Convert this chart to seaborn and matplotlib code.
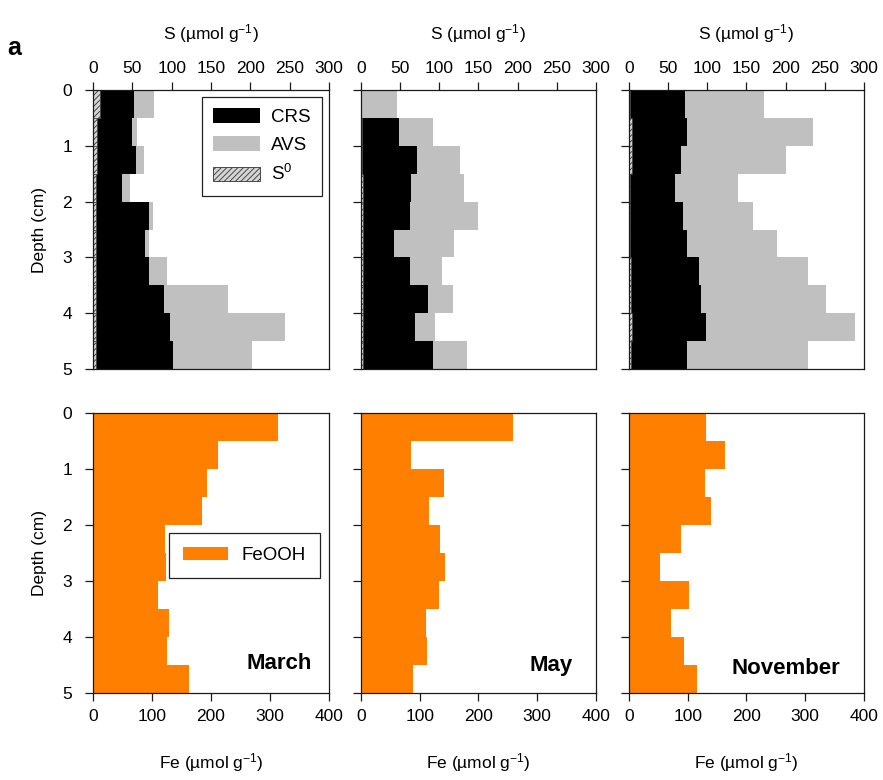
import numpy as np
import pandas as pd
import matplotlib
matplotlib.use("Agg")
import matplotlib.pyplot as plt
import seaborn as sns
from matplotlib.patches import Patch

# Sediment layers (0.5 cm slices), plotted at their mid-depth
depth_mid = [0.25, 0.75, 1.25, 1.75, 2.25, 2.75, 3.25, 3.75, 4.25, 4.75]
months = ["March", "May", "November"]

# Sulfur pools (µmol g-1)
march_s0 = [9, 5.5, 5.5, 4, 4, 3.5, 3.5, 3.5, 3.5, 3.5]
march_crs = [43, 44, 49, 33, 67, 63, 68, 87, 95, 98]
march_avs = [25, 6, 10, 10, 5, 5, 22, 81, 146, 100]

may_s0 = [0, 1, 1, 2, 2, 3, 2, 2, 2, 2]
may_crs = [0, 47, 70, 62, 60, 39, 61, 83, 67, 90]
may_avs = [46, 44, 56, 68, 88, 77, 41, 32, 26, 44]

nov_s0 = [1.5, 4, 4, 1.5, 1.5, 1.5, 2.5, 2.5, 4, 2]
nov_crs = [70, 70, 63, 57, 67, 73, 87, 90, 94, 72]
nov_avs = [101, 161, 134, 81, 90, 114, 139, 159, 191, 155]

# Reactive iron (µmol g-1)
march_feooh = [314, 212, 194, 185, 122, 123, 111, 128, 125, 162]
may_feooh = [259, 86, 141, 116, 135, 143, 132, 111, 113, 89]
nov_feooh = [132, 164, 129, 139, 88, 53, 103, 71, 93, 116]

s_ticks = [0, 50, 100, 150, 200, 250, 300]
fe_ticks = [0, 100, 200, 300, 400]
depth_ticks = [0, 1, 2, 3, 4, 5]

sulfur = {
    "March": (march_s0, march_crs, march_avs),
    "May": (may_s0, may_crs, may_avs),
    "November": (nov_s0, nov_crs, nov_avs),
}
iron = {"March": march_feooh, "May": may_feooh, "November": nov_feooh}

GRAY = "#c0c0c0"
ORANGE = "#ff8000"
HATCH_FACE = "#d4d4d4"
EDGE = "#333333"

sns.set_theme(style="ticks")
plt.rcParams["font.family"] = ["Liberation Sans", "DejaVu Sans"]
plt.rcParams["mathtext.fontset"] = "custom"
plt.rcParams["mathtext.rm"] = "Liberation Sans"
plt.rcParams["mathtext.default"] = "regular"
plt.rcParams["hatch.linewidth"] = 0.6
plt.rcParams["axes.edgecolor"] = "#1a1a1a"
plt.rcParams["axes.linewidth"] = 0.9
plt.rcParams["text.color"] = "black"
plt.rcParams["axes.labelcolor"] = "black"
plt.rcParams["xtick.color"] = "#1a1a1a"
plt.rcParams["ytick.color"] = "#1a1a1a"

fig = plt.figure(figsize=(8.83, 7.8), dpi=100)

lefts = [0.1053, 0.4088, 0.7123]
widths = [0.2673, 0.2661, 0.2661]
top_row = [fig.add_axes([l, 0.5269, w, 0.3577]) for l, w in zip(lefts, widths)]
bot_row = [fig.add_axes([l, 0.1119, w, 0.3582]) for l, w in zip(lefts, widths)]


def hbar(ax, values, **kw):
    df = pd.DataFrame({"depth": depth_mid, "value": values})
    sns.barplot(data=df, x="value", y="depth", orient="y", native_scale=True,
                width=1, saturation=1, errorbar=None, ax=ax, **kw)


def style_depth_axis(ax, first):
    ax.set_ylim(5, 0)
    ax.set_yticks(depth_ticks)
    ax.tick_params(axis="y", direction="out", length=6, width=0.9,
                   labelcolor="black", labelsize=12.5, pad=9)
    if first:
        ax.set_ylabel("Depth (cm)", fontsize=12.5, labelpad=11)
    else:
        ax.set_yticklabels([])
        ax.set_ylabel("")
    for s in ax.spines.values():
        s.set_visible(True)


for i, (ax, month) in enumerate(zip(top_row, months)):
    s0, crs, avs = sulfur[month]
    s0 = np.array(s0, dtype=float)
    cum_crs = s0 + np.array(crs, dtype=float)
    total = cum_crs + np.array(avs, dtype=float)
    hbar(ax, total, color=GRAY, linewidth=0)
    hbar(ax, cum_crs, color="black", linewidth=0)
    hbar(ax, s0, color=HATCH_FACE, hatch="//////", edgecolor=EDGE, linewidth=0.4)
    ax.set_xlim(0, 300)
    ax.set_xticks(s_ticks)
    ax.xaxis.tick_top()
    ax.xaxis.set_label_position("top")
    ax.tick_params(axis="x", direction="out", length=6, width=0.9,
                   labelcolor="black", labelsize=12.5, pad=4)
    ax.set_xlabel("S (µmol g$^{-1}$)", fontsize=12.5, labelpad=16)
    style_depth_axis(ax, i == 0)

for i, (ax, month) in enumerate(zip(bot_row, months)):
    hbar(ax, iron[month], color=ORANGE, linewidth=0)
    ax.set_xlim(0, 400)
    ax.set_xticks(fe_ticks)
    ax.tick_params(axis="x", direction="out", length=6, width=0.9,
                   labelcolor="black", labelsize=12.5, pad=6)
    ax.set_xlabel("Fe (µmol g$^{-1}$)", fontsize=12.5, labelpad=19)
    style_depth_axis(ax, i == 0)

# Month labels in the iron panels
month_pos = {"March": (0.927, 0.106), "May": (0.90, 0.096), "November": (0.898, 0.085)}
for ax, month in zip(bot_row, months):
    x, y = month_pos[month]
    ax.text(x, y, month, transform=ax.transAxes, ha="right", va="center",
            fontsize=16, fontweight="bold", color="black")

# Legends
s_handles = [
    Patch(facecolor="black", edgecolor="none", label="CRS"),
    Patch(facecolor=GRAY, edgecolor="none", label="AVS"),
    Patch(facecolor=HATCH_FACE, hatch="//////", edgecolor=EDGE, linewidth=0.6,
          label="S$^0$"),
]
leg = top_row[0].legend(handles=s_handles, loc="upper right",
                        bbox_to_anchor=(0.97, 0.975), fontsize=13.5,
                        frameon=True, fancybox=False, framealpha=1,
                        edgecolor="#222222", borderpad=0.6, labelspacing=0.55,
                        handlelength=2.5, handleheight=0.8, handletextpad=0.6,
                        borderaxespad=0)
leg.get_frame().set_linewidth(0.9)

fe_handles = [Patch(facecolor=ORANGE, edgecolor="none", label="FeOOH")]
leg2 = bot_row[0].legend(handles=fe_handles, loc="upper right",
                         bbox_to_anchor=(0.96, 0.572), fontsize=13.5,
                         frameon=True, fancybox=False, framealpha=1,
                         edgecolor="#222222", borderpad=0.75,
                         handlelength=2.4, handleheight=0.7, handletextpad=0.7,
                         borderaxespad=0)
leg2.get_frame().set_linewidth(0.9)

fig.text(0.008, 0.938, "a", fontsize=18, fontweight="bold", ha="left", va="center")

fig.savefig("out.png", dpi=100)
